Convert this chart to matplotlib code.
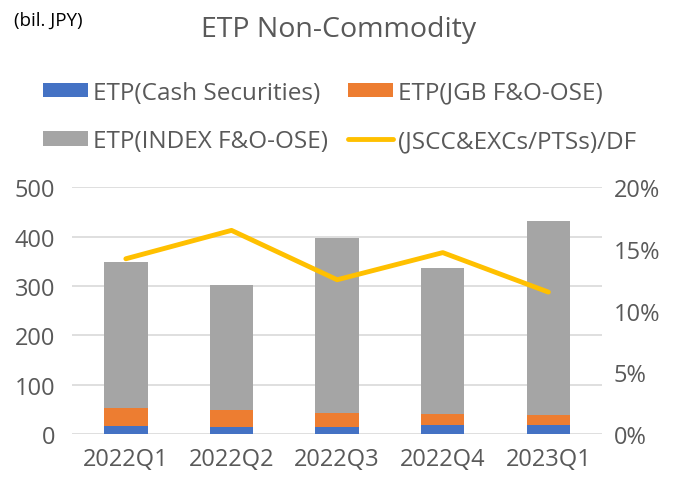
import numpy as np
import matplotlib.pyplot as plt

plt.rcParams['font.family'] = ['Open Sans', 'DejaVu Sans']

quarters = ['2022Q1', '2022Q2', '2022Q3', '2022Q4', '2023Q1']
cash = [16, 15, 15, 18, 18]
jgb = [37, 34, 28, 23, 21]
index = [295, 252, 354, 296, 392]
ratio = [14.2, 16.5, 12.5, 14.7, 11.5]  # percent

text_col = '#595959'
x = np.arange(len(quarters))

fig = plt.figure(figsize=(6.79, 4.85), dpi=100)
ax = fig.add_axes([0.106, 0.103, 0.781, 0.509])
ax2 = ax.twinx()

w = 0.41
b1 = ax.bar(x, cash, w, color='#4472C4', zorder=3)
b2 = ax.bar(x, jgb, w, bottom=cash, color='#ED7D31', zorder=3)
bottom2 = np.array(cash) + np.array(jgb)
b3 = ax.bar(x, index, w, bottom=bottom2, color='#A5A5A5', zorder=3)
ln, = ax2.plot(x, ratio, color='#FFC000', lw=3.5, solid_capstyle='round')

ax.set_ylim(0, 500)
ax.set_yticks(range(0, 501, 100))
ax2.set_ylim(0, 20)
ax2.set_yticks(range(0, 21, 5))
ax2.set_yticklabels([f'{v}%' for v in range(0, 21, 5)])
ax.set_xlim(-0.51, 4.51)
ax.set_xticks(x)
ax.set_xticklabels(quarters)

ax.grid(axis='y', color='#D9D9D9', lw=1.2, zorder=0)
for a in (ax, ax2):
    for s in a.spines.values():
        s.set_visible(False)
    a.tick_params(length=0, colors=text_col, labelsize=17)
ax.tick_params(axis='x', pad=9)
ax.tick_params(axis='y', pad=12)
ax2.tick_params(axis='y', pad=8)

fig.text(0.498, 0.938, 'ETP Non-Commodity', ha='center', va='center',
         fontsize=20.5, color=text_col)
fig.text(0.02, 0.958, '(bil. JPY)', ha='left', va='center', fontsize=13.5,
         color='black')

# order so rows read: cash, jgb / index, ratio
fig.legend([b1, b3, b2, ln],
           ['ETP(Cash Securities)', 'ETP(INDEX F&O-OSE)', 'ETP(JGB F&O-OSE)',
            '(JSCC&EXCs/PTSs)/DF'],
           loc='center', bbox_to_anchor=(0.5, 0.757), ncol=2, frameon=False,
           fontsize=17.5, labelcolor=text_col, handlelength=1.85,
           handleheight=0.55, columnspacing=0.8, handletextpad=0.22,
           labelspacing=1.0)

fig.savefig('out.png', dpi=100)
